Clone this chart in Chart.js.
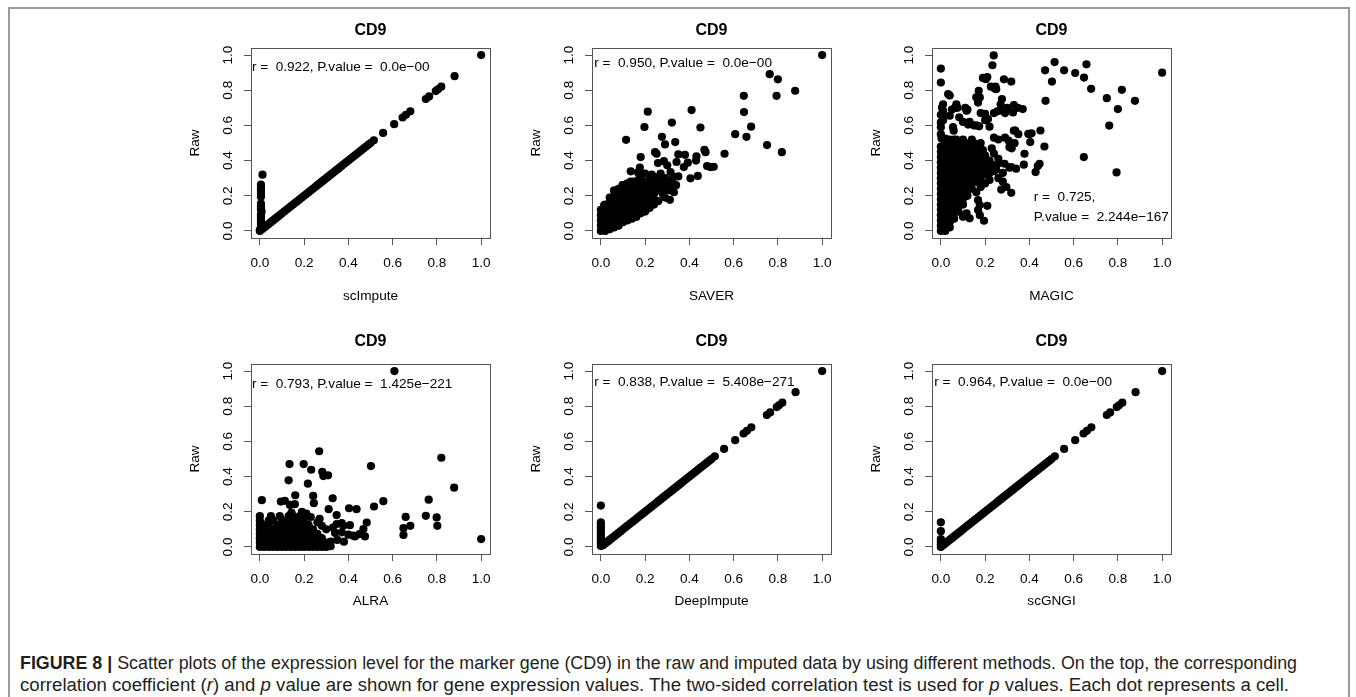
<!DOCTYPE html>
<html>
<head>
<meta charset="utf-8">
<script src="https://cdn.jsdelivr.net/npm/chart.js@4.4.1/dist/chart.umd.min.js"></script>
<style>
  body { margin: 0; background: #fff; width: 1356px; height: 697px; overflow: hidden; position: relative;
         font-family: 'Liberation Sans', Arial, sans-serif; }
  #frame { position: absolute; left: 8px; top: 7px; width: 1338px; height: 720px;
           border: 2px solid #9a9a9a; border-bottom: none; }
  canvas { position: absolute; }
  .cap { position: absolute; left: 20px; white-space: nowrap; font-size: 18px; line-height: 20px;
         color: #231f20; transform-origin: 0 50%; }
</style>
</head>
<body>
<div id="frame"></div>
<canvas id="c1" width="331" height="300"></canvas>
<canvas id="c2" width="331" height="300"></canvas>
<canvas id="c3" width="331" height="300"></canvas>
<canvas id="c4" width="331" height="300"></canvas>
<canvas id="c5" width="331" height="300"></canvas>
<canvas id="c6" width="331" height="300"></canvas>
<div class="cap" id="cap1" style="top:653px"><b>FIGURE 8 |</b> Scatter plots of the expression level for the marker gene (CD9) in the raw and imputed data by using different methods. On the top, the corresponding</div>
<div class="cap" id="cap2" style="top:675px">correlation coefficient (<i>r</i>) and <i>p</i> value are shown for gene expression values. The two-sided correlation test is used for <i>p</i> values. Each dot represents a cell.</div>

<script>
// tick positions (both axes)
const xTicks = [0, 0.2, 0.4, 0.6, 0.8, 1.0]
const yTicks = [0, 0.2, 0.4, 0.6, 0.8, 1.0]

// cells where imputed == raw (same in scImpute, DeepImpute, scGNGI)
const sharedDiag = [
  [0.01,0.01],[0.02,0.02],[0.03,0.03],[0.04,0.04],[0.05,0.05],[0.06,0.06],[0.07,0.07],[0.08,0.08],[0.09,0.09],[0.10,0.10],
  [0.11,0.11],[0.12,0.12],[0.13,0.13],[0.14,0.14],[0.15,0.15],[0.16,0.16],[0.17,0.17],[0.18,0.18],[0.19,0.19],[0.20,0.20],
  [0.21,0.21],[0.22,0.22],[0.23,0.23],[0.24,0.24],[0.25,0.25],[0.26,0.26],[0.27,0.27],[0.28,0.28],[0.29,0.29],[0.30,0.30],
  [0.31,0.31],[0.32,0.32],[0.33,0.33],[0.34,0.34],[0.35,0.35],[0.36,0.36],[0.37,0.37],[0.38,0.38],[0.39,0.39],[0.40,0.40],
  [0.41,0.41],[0.42,0.42],[0.43,0.43],[0.44,0.44],[0.45,0.45],[0.46,0.46],[0.47,0.47],[0.48,0.48],[0.49,0.49],[0.50,0.50],
  [0.515,0.515],[0.557,0.557],[0.607,0.607],[0.645,0.645],[0.66,0.66],[0.68,0.68],[0.75,0.75],[0.765,0.765],
  [0.795,0.795],[0.805,0.805],[0.82,0.82],[0.88,0.88],[1,1]
]
// cells imputed as ~0 but with raw expression
const scImputeZeros = [
  [0.012,0.32],[0.005,0.264],[0.005,0.245],[0.005,0.232],[0.005,0.213],[0.005,0.194],[0.005,0.155],[0.005,0.14],
  [0.005,0.125],[0.008,0.11],[0.005,0.095],[0.005,0.08],[0.005,0.065],[0.005,0.05],[0.005,0.035],[0.005,0.02],[0,0.005],[0,0]
]
const deepImputeZeros = [
  [0,0.235],[0,0.14],[0,0.125],[0,0.11],[0,0.095],[0,0.08],[0,0.065],[0,0.05],[0,0.035],[0,0.02],[0,0.005]
]
const scgngiZeros = [
  [0,0.14],[0,0.09],[0,0.045],[0,0.03],[0,0.015],[0,0],[0.01,0.02]
]

const saverPts = [
  [0,0],[0,0.03],[0,0.06],[0,0.09],[0,0.12],
  [0.02,0],[0.02,0.03],[0.02,0.06],[0.02,0.09],[0.02,0.12],[0.02,0.15],
  [0.04,0.01],[0.04,0.04],[0.04,0.07],[0.04,0.1],[0.04,0.13],[0.04,0.16],[0.04,0.19],
  [0.06,0.02],[0.06,0.05],[0.06,0.08],[0.06,0.11],[0.06,0.14],[0.06,0.17],[0.06,0.2],[0.06,0.23],
  [0.08,0.03],[0.08,0.06],[0.08,0.09],[0.08,0.12],[0.08,0.15],[0.08,0.18],[0.08,0.21],[0.08,0.24],
  [0.1,0.05],[0.1,0.08],[0.1,0.11],[0.1,0.14],[0.1,0.17],[0.1,0.2],[0.1,0.23],[0.1,0.26],
  [0.12,0.06],[0.12,0.09],[0.12,0.12],[0.12,0.15],[0.12,0.18],[0.12,0.21],[0.12,0.24],
  [0.14,0.07],[0.14,0.1],[0.14,0.13],[0.14,0.16],[0.14,0.19],[0.14,0.22],[0.14,0.25],
  [0.16,0.08],[0.16,0.11],[0.16,0.14],[0.16,0.17],[0.16,0.2],[0.16,0.23],[0.16,0.26],
  [0.18,0.1],[0.18,0.13],[0.18,0.16],[0.18,0.19],[0.18,0.22],[0.18,0.25],
  [0.2,0.11],[0.2,0.14],[0.2,0.17],[0.2,0.2],[0.2,0.23],[0.2,0.26],
  [0.22,0.13],[0.22,0.16],[0.22,0.19],[0.22,0.22],[0.22,0.25],
  [0.24,0.15],[0.24,0.18],[0.24,0.21],[0.24,0.24],[0.24,0.27],
  [0.22,0.29],[0.25,0.3],[0.27,0.28],[0.29,0.3],[0.26,0.23],[0.28,0.21],[0.3,0.27],[0.32,0.29],[0.31,0.25],
  [0.28,0.24],[0.26,0.17],[0.29,0.19],[0.19,0.28],[0.17,0.29],[0.15,0.28],[0.12,0.27],[0.18,0.3],[0.23,0.32],
  [0.35,0.31],[0.33,0.22],[0.015,0.147],[0.06,0.23],[0.098,0.26],[0.135,0.28],
  [1.0,1.0],[0.763,0.891],[0.80,0.862],[0.878,0.797],[0.646,0.768],[0.794,0.768],[0.212,0.678],[0.41,0.687],
  [0.647,0.676],[0.197,0.591],[0.321,0.616],[0.45,0.588],[0.679,0.593],[0.607,0.55],[0.658,0.535],[0.114,0.518],
  [0.276,0.535],[0.751,0.488],[0.818,0.448],[0.559,0.439],[0.29,0.492],[0.336,0.505],[0.245,0.448],[0.252,0.439],
  [0.35,0.435],[0.38,0.433],[0.468,0.461],[0.473,0.448],[0.432,0.424],[0.18,0.42],[0.258,0.386],[0.285,0.397],
  [0.30,0.373],[0.342,0.392],[0.393,0.388],[0.43,0.40],[0.48,0.369],[0.495,0.363],[0.51,0.365],[0.375,0.363],
  [0.176,0.36],[0.135,0.339],[0.405,0.299],[0.438,0.313],[0.312,0.177],[0.34,0.26],[0.168,0.333],[0.20,0.326],
  [0.24,0.307],[0.27,0.326],[0.315,0.335],[0.33,0.307],[0.308,0.232],[0.27,0.26]
]

const magicPts = [
  [0,0],[0,0.03],[0,0.06],[0,0.09],[0,0.12],[0,0.15],[0,0.18],[0,0.21],[0,0.24],[0,0.27],[0,0.3],[0,0.33],[0,0.36],[0,0.39],[0,0.42],
  [0.02,0],[0.02,0.03],[0.02,0.06],[0.02,0.09],[0.02,0.12],[0.02,0.15],[0.02,0.18],[0.02,0.21],[0.02,0.24],[0.02,0.27],[0.02,0.3],[0.02,0.33],[0.02,0.36],[0.02,0.39],[0.02,0.42],
  [0.04,0.02],[0.04,0.05],[0.04,0.08],[0.04,0.11],[0.04,0.14],[0.04,0.17],[0.04,0.2],[0.04,0.23],[0.04,0.26],[0.04,0.29],[0.04,0.32],[0.04,0.35],[0.04,0.38],[0.04,0.41],
  [0.06,0.07],[0.06,0.1],[0.06,0.13],[0.06,0.16],[0.06,0.19],[0.06,0.22],[0.06,0.25],[0.06,0.28],[0.06,0.31],[0.06,0.34],[0.06,0.37],[0.06,0.4],[0.06,0.43],
  [0.08,0.11],[0.08,0.14],[0.08,0.17],[0.08,0.2],[0.08,0.23],[0.08,0.26],[0.08,0.29],[0.08,0.32],[0.08,0.35],[0.08,0.38],[0.08,0.41],
  [0.1,0.15],[0.1,0.18],[0.1,0.21],[0.1,0.24],[0.1,0.27],[0.1,0.3],[0.1,0.33],[0.1,0.36],[0.1,0.39],[0.1,0.42],
  [0.12,0.2],[0.12,0.23],[0.12,0.26],[0.12,0.29],[0.12,0.32],[0.12,0.35],[0.12,0.38],
  [0.14,0.24],[0.14,0.27],[0.14,0.3],[0.14,0.33],[0.14,0.36],
  [0.16,0.28],[0.16,0.31],[0.16,0.34],[0.18,0.3],[0.18,0.33],
  [0,0.45],[0,0.48],[0.02,0.45],[0.02,0.5],[0.04,0.44],[0.06,0.46],[0.08,0.47],[0.1,0.44],[0.12,0.41],[0.12,0.47],
  [0.14,0.42],[0.14,0.45],[0.16,0.41],[0.18,0.43],[0.18,0.37],[0.2,0.35],[0.2,0.4],[0.22,0.33],[0.22,0.4],
  [0.15,0.5],[0.18,0.5],[0.06,0.52],[0.09,0.51],
  [0.01,0.45],[0.03,0.44],[0.05,0.46],[0.08,0.44],[0.1,0.46],[0.12,0.44],[0.14,0.47],[0.16,0.45],[0.13,0.49],
  [0.17,0.48],[0.19,0.46],[0.11,0.5],[0.09,0.48],[0.07,0.49],[0.2,0.43],[0.18,0.4],[0.16,0.38],[0.2,0.38],
  [0.22,0.36],[0.19,0.35],[0.14,0.39],[0.21,0.32],[0.22,0.29],[0.2,0.27],[0.18,0.25],[0.16,0.22],[0.17,0.28],
  [0.24,0.34],[0.25,0.37],[0.24,0.44],[0.26,0.41],[0.23,0.47],[0.01,0.48],[0.03,0.47],[0.05,0.49],
  [0.236,0.373],[0.258,0.382],[0.288,0.382],[0.31,0.36],[0.34,0.354],[0.318,0.363],[0.25,0.35],[0.28,0.33],
  [0.26,0.3],[0.28,0.28],[0.296,0.25],[0.273,0.235],[0.318,0.217],[0.306,0.514],[0.31,0.476],[0.333,0.499],
  [0.336,0.571],[0.395,0.552],[0.41,0.555],[0.45,0.571],[0.404,0.505],[0.378,0.439],[0.468,0.48],[0.375,0.377],
  [0.438,0.369],[0.446,0.382],[0.428,0.335],[0.646,0.42],[0.794,0.333],
  [0.168,0.175],[0.176,0.147],[0.21,0.143],[0.195,0.058],[0.1,0.081],[0.13,0.072],[0.116,0.1],[0.168,0.119],[0.176,0.09],
  [0,0.923],[0,0.844],[0.239,0.998],[0.233,0.942],[0.033,0.778],[0.04,0.77],[0.19,0.87],[0.203,0.863],[0.21,0.875],
  [0.243,0.81],[0.25,0.806],[0.285,0.862],[0.318,0.849],[0.276,0.75],[0.171,0.797],[0.176,0.759],[0.168,0.73],
  [0.116,0.684],[0.07,0.72],[0.063,0.70],[0.01,0.72],[0.01,0.684],[0.01,0.655],[0,0.617],[0,0.59],[0.04,0.655],
  [0.083,0.646],[0.123,0.605],[0.16,0.6],[0.173,0.595],[0.22,0.593],[0.213,0.636],[0.18,0.67],[0.2,0.665],[0.24,0.67],
  [0.255,0.68],[0.27,0.685],[0.29,0.67],[0.33,0.716],[0.326,0.674],[0.348,0.70],[0.37,0.693],[0.473,0.74],[0.226,0.82],
  [0.247,0.82],[0.16,0.76],[0.27,0.72],[0.3,0.7],[0.05,0.69],[0.075,0.7],[0.11,0.7],[0.12,0.69],[0.13,0.62],[0.15,0.6],
  [0.055,0.59],[0.058,0.57],[0.1,0.62],[0.2,0.63],[0.003,0.525],[0.02,0.525],[0.04,0.52],[0.07,0.52],[0.1,0.52],
  [0.14,0.52],[0.24,0.53],[0.26,0.52],[0.29,0.53],[0.33,0.57],[0.35,0.55],[0.4,0.55],[0.32,0.47],[0.045,0.44],
  [0.075,0.46],[0,0.55],[0.01,0.63],[0,0.66],[0.005,0.7],
  [0.471,0.913],[0.514,0.96],[0.557,0.913],[0.607,0.898],[0.658,0.947],[0.647,0.872],[0.502,0.849],[0.679,0.808],
  [0.75,0.755],[0.818,0.802],[0.877,0.74],[0.8,0.693],[0.761,0.599],[1.0,0.9]
]

const alraPts = [
  [0,0],[0.02,0],[0.04,0],[0.06,0],[0.08,0],[0.1,0],[0.12,0],[0.14,0],[0.16,0],[0.18,0],[0.2,0],[0.22,0],[0.24,0],[0.26,0],[0.28,0],[0.3,0],[0.32,0.004],
  [0,0.025],[0.02,0.025],[0.04,0.025],[0.06,0.025],[0.08,0.025],[0.1,0.025],[0.12,0.025],[0.14,0.025],[0.16,0.025],[0.18,0.025],[0.2,0.025],[0.22,0.025],[0.24,0.025],[0.26,0.025],[0.28,0.025],[0.3,0.025],
  [0,0.05],[0.02,0.05],[0.04,0.05],[0.06,0.05],[0.08,0.05],[0.1,0.05],[0.12,0.05],[0.14,0.05],[0.16,0.05],[0.18,0.05],[0.2,0.05],[0.22,0.05],[0.24,0.05],[0.26,0.05],[0.28,0.05],
  [0,0.075],[0.02,0.075],[0.04,0.075],[0.06,0.075],[0.08,0.075],[0.1,0.075],[0.12,0.075],[0.14,0.075],[0.16,0.075],[0.18,0.075],[0.2,0.075],[0.22,0.075],[0.24,0.075],[0.26,0.075],
  [0,0.1],[0.02,0.1],[0.04,0.1],[0.06,0.1],[0.08,0.1],[0.1,0.1],[0.12,0.1],[0.14,0.1],[0.16,0.1],[0.18,0.1],[0.2,0.1],[0.22,0.1],[0.24,0.1],
  [0,0.125],[0.02,0.125],[0.04,0.125],[0.08,0.125],[0.1,0.125],[0.12,0.125],[0.14,0.125],[0.16,0.125],[0.18,0.125],[0.2,0.125],[0.22,0.125],
  [0,0.15],[0.04,0.15],[0.06,0.15],[0.1,0.15],[0.12,0.15],[0.14,0.15],[0.16,0.15],[0.18,0.15],[0.2,0.15],
  [0,0.175],[0.05,0.175],[0.09,0.175],[0.13,0.175],[0.15,0.175],[0.18,0.175],
  [0.608,1.0],[0.268,0.544],[0.134,0.471],[0.198,0.471],[0.232,0.439],[0.282,0.427],[0.287,0.403],[0.308,0.407],
  [0.13,0.379],[0.217,0.36],[0.502,0.46],[0.82,0.507],[0.878,0.337],[0.009,0.266],[0.095,0.258],[0.113,0.262],
  [0.16,0.294],[0.136,0.239],[0.158,0.243],[0.241,0.29],[0.244,0.249],[0.329,0.277],[0.143,0.196],[0.311,0.215],
  [0.347,0.181],[0.347,0.13],[0.403,0.22],[0.437,0.215],[0.516,0.23],[0.558,0.26],[0.763,0.269],[0.75,0.177],
  [0.799,0.168],[0.802,0.12],[0.659,0.171],[0.68,0.12],[0.649,0.107],[0.649,0.068],[0.483,0.139],[0.468,0.102],
  [0.45,0.073],[0.422,0.064],[0.475,0.06],[0.407,0.124],[0.37,0.083],[0.377,0.12],[0.37,0.135],[0.34,0.08],
  [0.35,0.04],[0.32,0.03],[0.38,0.03],[0.4,0.07],[0.43,0.06],[0.28,0.12],[0.3,0.1],[0.26,0.14],[0.23,0.17],
  [0.19,0.2],[0.21,0.19],[0.27,0.16],[0.33,0.11],[1.0,0.045]
]

const M = '\u2212'
const panels = [
  { id: 'c1', left: 251, top: 48, row: 0, xLabel: 'scImpute', pts: sharedDiag.concat(scImputeZeros),
    notes: [{ t: 'r =  0.922, P.value =  0.0e' + M + '00', x: -0.036, y: 0.932 }] },
  { id: 'c2', left: 592, top: 48, row: 0, xLabel: 'SAVER', pts: saverPts,
    notes: [{ t: 'r =  0.950, P.value =  0.0e' + M + '00', x: -0.03, y: 0.955 }] },
  { id: 'c3', left: 932, top: 48, row: 0, xLabel: 'MAGIC', pts: magicPts,
    notes: [{ t: 'r =  0.725,', x: 0.42, y: 0.19 }, { t: 'P.value =  2.244e' + M + '167', x: 0.42, y: 0.08 }] },
  { id: 'c4', left: 251, top: 364, row: 1, xLabel: 'ALRA', pts: alraPts,
    notes: [{ t: 'r =  0.793, P.value =  1.425e' + M + '221', x: -0.036, y: 0.927 }] },
  { id: 'c5', left: 592, top: 364, row: 1, xLabel: 'DeepImpute', pts: sharedDiag.concat(deepImputeZeros),
    notes: [{ t: 'r =  0.838, P.value =  5.408e' + M + '271', x: -0.03, y: 0.938 }] },
  { id: 'c6', left: 932, top: 364, row: 1, xLabel: 'scGNGI', pts: sharedDiag.concat(scgngiZeros),
    notes: [{ t: 'r =  0.964, P.value =  0.0e' + M + '00', x: -0.03, y: 0.938 }] }
]

const FONT = "'Liberation Sans', Arial, sans-serif"
Chart.defaults.font.family = FONT
Chart.defaults.color = '#000'

// R-like box, rotated y tick labels and the r / p text
const rStyle = {
  id: 'rStyle',
  afterDraw(chart, args, opts) {
    const { ctx, chartArea: a, scales: { x, y } } = chart
    ctx.save()
    ctx.strokeStyle = '#555'
    ctx.lineWidth = 1
    ctx.strokeRect(Math.round(a.left) + 0.5, Math.round(a.top) + 0.5, Math.round(a.width), Math.round(a.height))
    ctx.fillStyle = '#000'
    ctx.font = '13.6px ' + FONT
    ctx.textAlign = 'center'
    ctx.textBaseline = 'middle'
    y.ticks.forEach(t => {
      ctx.save()
      ctx.translate(a.left - 23, y.getPixelForValue(t.value))
      ctx.rotate(-Math.PI / 2)
      ctx.fillText(t.value.toFixed(1), 0, 0)
      ctx.restore()
    })
    ctx.textAlign = 'left'
    opts.notes.forEach(n => ctx.fillText(n.t, x.getPixelForValue(n.x), y.getPixelForValue(n.y)))
    ctx.restore()
  }
}

panels.forEach(p => {
  const cv = document.getElementById(p.id)
  cv.style.left = (p.left - 80) + 'px'
  cv.style.top = (p.top - 40) + 'px'
  new Chart(cv, {
    type: 'scatter',
    data: { datasets: [{ data: p.pts.map(d => ({ x: d[0], y: d[1] })), backgroundColor: '#000',
                         borderWidth: 0, pointRadius: 4.1, clip: false }] },
    options: {
      responsive: false, animation: false, devicePixelRatio: 1,
      layout: { padding: { left: 0, right: 12, top: 0, bottom: 0 } },
      plugins: {
        legend: { display: false },
        tooltip: { enabled: false },
        title: { display: true, text: 'CD9', fullSize: false, color: '#000',
                 font: { size: 16, weight: 'bold', lineHeight: 1.25 },
                 padding: p.row === 0 ? { top: 13, bottom: 7 } : { top: 8, bottom: 12 } },
        rStyle: { notes: p.notes }
      },
      scales: {
        x: {
          type: 'linear', min: -0.04, max: 1.04,
          afterBuildTicks: s => { s.ticks = xTicks.map(v => ({ value: v })) },
          afterFit: s => { s.height = 70 },
          ticks: { callback: v => v.toFixed(1), font: { size: 13.6 }, color: '#000', padding: 10,
                   maxRotation: 0, autoSkip: false },
          grid: { drawOnChartArea: false, tickLength: 7, color: '#555' },
          border: { color: '#555' },
          title: { display: true, text: p.xLabel, color: '#000', font: { size: 13.6, lineHeight: 1.25 },
                   padding: { top: 0, bottom: p.row === 0 ? 3.5 : 14.5 } }
        },
        y: {
          type: 'linear', min: -0.04, max: 1.04,
          afterBuildTicks: s => { s.ticks = yTicks.map(v => ({ value: v })) },
          afterFit: s => { s.width = 80 },
          ticks: { display: false },
          grid: { drawOnChartArea: false, tickLength: 7, color: '#555' },
          border: { color: '#555' },
          title: { display: true, text: 'Raw', color: '#000', font: { size: 13.6, lineHeight: 1.25 },
                   padding: { top: 15.5, bottom: 0 } }
        }
      }
    },
    plugins: [rStyle]
  })
})

// caption lines are condensed in the figure: squeeze each to its measured width
const capWidths = { cap1: 1277, cap2: 1269 }
Object.keys(capWidths).forEach(id => {
  const el = document.getElementById(id)
  const w = el.getBoundingClientRect().width
  el.style.transform = 'scaleX(' + (capWidths[id] / w) + ')'
})
</script>
</body>
</html>
